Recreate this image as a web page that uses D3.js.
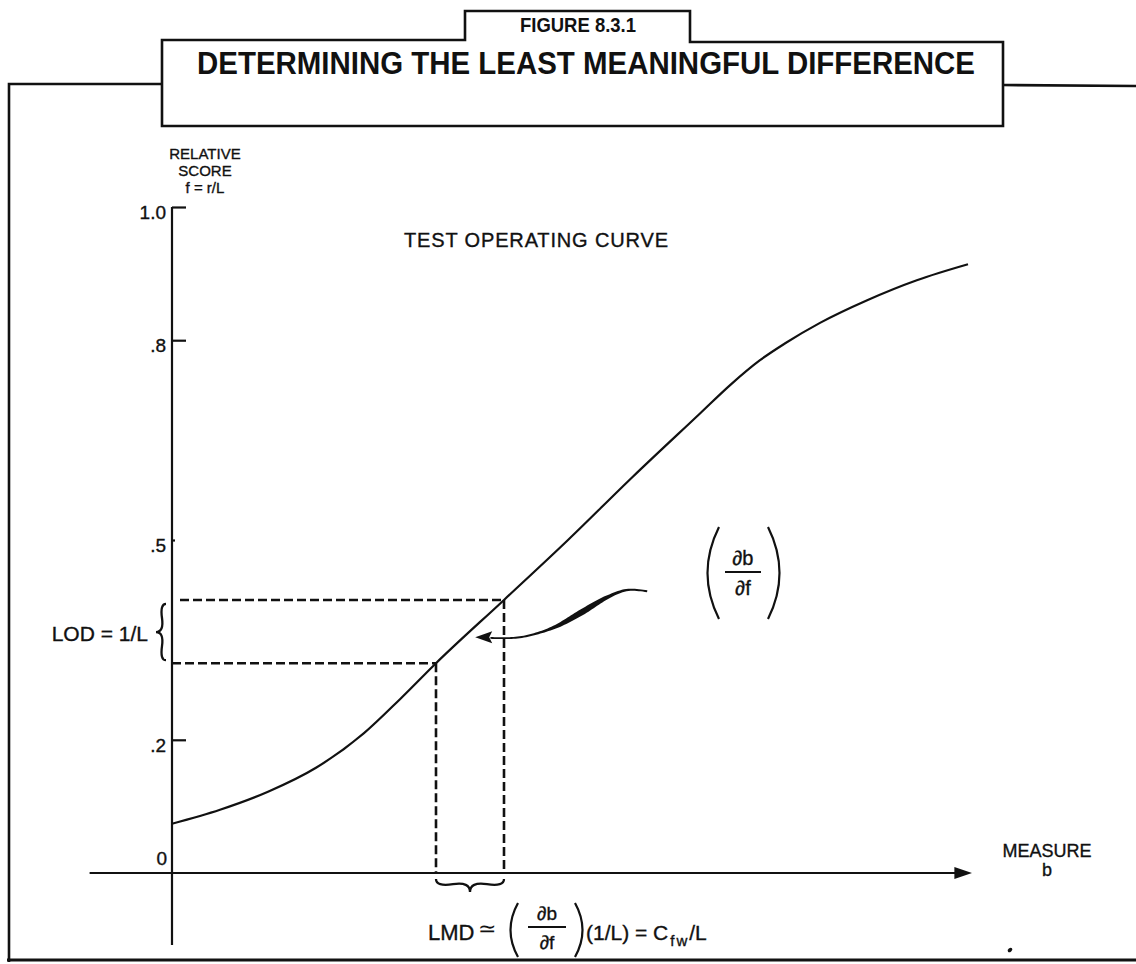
<!DOCTYPE html>
<html>
<head>
<meta charset="utf-8">
<script src="https://cdn.jsdelivr.net/npm/d3@7"></script>
<style>
  html, body { margin: 0; padding: 0; background: #fff; }
  svg { display: block; }
  text { fill: #111; font-family: "Liberation Sans", Arial, Helvetica, sans-serif; }
  .lbl { stroke: #111; stroke-width: 0.35px; }
  .head { font-weight: bold; }
</style>
</head>
<body>
<script>
// Test operating curve: relative score f = r/L against measure b
const measureB = [0, 0.6, 1.2, 1.8, 2.4, 2.85, 3.3, 4.15, 4.95, 5.76, 6.6, 6.98, 7.35, 7.66, 8.1, 8.69, 9.31, 9.95];
const scoreF   = [0.074, 0.095, 0.122, 0.158, 0.21, 0.261, 0.315, 0.41, 0.5, 0.595, 0.69, 0.733, 0.77, 0.795, 0.826, 0.86, 0.89, 0.914];

// Two neighbouring score levels one LOD (= 1/L) apart, and the measures they map to
const lodLevels = [0.315, 0.41];
const lmdBounds = [3.3, 4.15];

// Vertical axis ticks
const yTickValues = [0.2, 0.5, 0.8, 1.0];
const yTickLabels = [".2", ".5", ".8", "1.0"];

// Vertical axis title lines
const yTitleLines = ["RELATIVE", "SCORE", "f = r/L"];

// Slope pointer (b, f) centre line, tail first
const pointerB = [5.94, 5.69, 5.44, 5.1, 4.76, 4.35, 3.98];
const pointerF = [0.423, 0.425, 0.414, 0.39, 0.368, 0.354, 0.353];

const W = 1136, H = 964;
const ink = "#111";

const svg = d3.select("body").append("svg")
  .attr("width", W).attr("height", H)
  .attr("viewBox", `0 0 ${W} ${H}`);

svg.append("rect").attr("width", W).attr("height", H).attr("fill", "#fff");

const x = d3.scaleLinear().domain([-1, 10]).range([92, 972]);
const y = d3.scaleLinear().domain([0, 1]).range([873, 207]);

// ---------- page frame and heading boxes ----------
const frame = svg.append("g").attr("fill", "none").attr("stroke", ink)
  .attr("stroke-width", 2.6).attr("stroke-linejoin", "miter");
frame.append("path").attr("d", "M9,962 L9,84 L162,84");
frame.append("path").attr("d", "M1003,85 L1136,86");
frame.append("path").attr("d", "M7,960 L1136,960").attr("stroke-width", 3.2);
frame.append("path").attr("d", "M162,126 L162,40 L465,40 L465,11 L690,11 L690,42 L1003,42 L1003,126 Z")
  .attr("fill", "#fff");

svg.append("text").attr("class", "head")
  .attr("x", 578).attr("y", 32).attr("text-anchor", "middle")
  .attr("font-size", 21).attr("textLength", 116).attr("lengthAdjust", "spacingAndGlyphs")
  .text("FIGURE 8.3.1");

svg.append("text").attr("class", "head")
  .attr("x", 586).attr("y", 74).attr("text-anchor", "middle")
  .attr("font-size", 32).attr("textLength", 778).attr("lengthAdjust", "spacingAndGlyphs")
  .text("DETERMINING THE LEAST MEANINGFUL DIFFERENCE");

// ---------- axes ----------
const axes = svg.append("g").attr("stroke", ink).attr("stroke-width", 2.2).attr("fill", "none");
// vertical axis, running a little below the measure axis
axes.append("line")
  .attr("x1", x(0)).attr("x2", x(0))
  .attr("y1", y(1.0)).attr("y2", y(-0.108));
// measure axis with arrow head
axes.append("line")
  .attr("x1", x(-1.03)).attr("x2", x(9.85))
  .attr("y1", y(0)).attr("y2", y(0));
svg.append("path")
  .attr("d", `M${x(10)},${y(0)} L${x(9.78)},${y(0) - 6} L${x(9.78)},${y(0) + 6} Z`)
  .attr("fill", ink);

// tick marks pointing into the plot, labels on the left
const yAxis = d3.axisLeft(y)
  .tickValues(yTickValues)
  .tickSize(-14)
  .tickPadding(6)
  .tickFormat((d, i) => yTickLabels[i]);
const yg = svg.append("g").attr("transform", `translate(${x(0)},0)`).call(yAxis);
yg.select(".domain").remove();
yg.selectAll(".tick line").attr("stroke", ink).attr("stroke-width", 2.2)
  .attr("x2", d => d === 0.5 ? 3 : 14);
yg.selectAll(".tick text")
  .attr("class", "lbl")
  .attr("fill", ink).attr("font-size", 19)
  .attr("font-family", "'Liberation Sans', Arial, sans-serif")
  .attr("dy", "0.62em");

// origin label
svg.append("text").attr("class", "lbl").attr("x", x(0) - 5).attr("y", y(0) - 8)
  .attr("text-anchor", "end").attr("font-size", 19).text("0");

// axis titles
svg.append("g").attr("font-size", 15).attr("text-anchor", "middle")
  .selectAll("text").data(yTitleLines).join("text")
  .attr("class", "lbl")
  .attr("x", 205)
  .attr("y", (d, i) => 159 + i * 17)
  .text(d => d);

svg.append("text").attr("class", "lbl").attr("x", 1047).attr("y", 857).attr("text-anchor", "middle")
  .attr("font-size", 18).text("MEASURE");
svg.append("text").attr("class", "lbl").attr("x", 1047).attr("y", 876).attr("text-anchor", "middle")
  .attr("font-size", 18).text("b");

svg.append("text").attr("class", "lbl").attr("x", 404).attr("y", 247)
  .attr("font-size", 20).attr("textLength", 264).attr("lengthAdjust", "spacing")
  .text("TEST OPERATING CURVE");

// ---------- dashed construction lines ----------
const dash = svg.append("g").attr("stroke", ink).attr("stroke-width", 2.6)
  .attr("stroke-dasharray", "9,4").attr("fill", "none");
lodLevels.forEach((f, i) => {
  dash.append("line")
    .attr("x1", x(i === 1 ? 0.1 : 0)).attr("x2", x(lmdBounds[i]))
    .attr("y1", y(f)).attr("y2", y(f));
  dash.append("line")
    .attr("x1", x(lmdBounds[i])).attr("x2", x(lmdBounds[i]))
    .attr("y1", y(f)).attr("y2", y(0));
});

// ---------- operating curve ----------
const curveData = measureB.map((b, i) => ({ b, f: scoreF[i] }));
const line = d3.line().x(d => x(d.b)).y(d => y(d.f)).curve(d3.curveMonotoneX);
svg.append("path").datum(curveData)
  .attr("d", line)
  .attr("fill", "none").attr("stroke", ink).attr("stroke-width", 2.2)
  .attr("stroke-linejoin", "round");

// ---------- curly braces ----------
function curlyBrace(x1, y1, x2, y2, w, q) {
  const len = Math.hypot(x1 - x2, y1 - y2);
  const dx = (x1 - x2) / len, dy = (y1 - y2) / len;
  const qx1 = x1 + q * w * dy, qy1 = y1 - q * w * dx;
  const qx2 = (x1 - 0.25 * len * dx) + (1 - q) * w * dy, qy2 = (y1 - 0.25 * len * dy) - (1 - q) * w * dx;
  const tx1 = (x1 - 0.5 * len * dx) + w * dy, ty1 = (y1 - 0.5 * len * dy) - w * dx;
  const qx3 = x2 + q * w * dy, qy3 = y2 - q * w * dx;
  const qx4 = (x1 - 0.75 * len * dx) + (1 - q) * w * dy, qy4 = (y1 - 0.75 * len * dy) - (1 - q) * w * dx;
  return `M${x1},${y1} Q${qx1},${qy1} ${qx2},${qy2} T${tx1},${ty1} ` +
         `M${x2},${y2} Q${qx3},${qy3} ${qx4},${qy4} T${tx1},${ty1}`;
}
const braces = svg.append("g").attr("fill", "none").attr("stroke", ink).attr("stroke-width", 2.3);
// LOD brace on the score axis
braces.append("path").attr("d", curlyBrace(166, y(lodLevels[1]) + 4, 166, y(lodLevels[0]) - 3, 10, 0.6));
// LMD brace under the measure axis
braces.append("path").attr("d", curlyBrace(x(lmdBounds[0]), y(0) + 6, x(lmdBounds[1]), y(0) + 6, 13, 0.6));

svg.append("text").attr("class", "lbl").attr("x", 148).attr("y", 641).attr("text-anchor", "end")
  .attr("font-size", 21).text("LOD = 1/L");

// ---------- slope pointer: tapered stroke, thick in the middle ----------
const ptr = pointerB.map((b, i) => [x(b), y(pointerF[i])]);
const ptrLine = d3.line().curve(d3.curveCatmullRom.alpha(0.5));
const guide = svg.append("path").attr("d", ptrLine(ptr)).attr("fill", "none").attr("stroke", "none");
const gNode = guide.node();
const gLen = gNode.getTotalLength();
const sideA = [], sideB = [];
const steps = 80;
for (let i = 0; i <= steps; i++) {
  const t = i / steps;
  const s = t * gLen;
  const p = gNode.getPointAtLength(s);
  const p0 = gNode.getPointAtLength(Math.max(0, s - 0.6));
  const p1 = gNode.getPointAtLength(Math.min(gLen, s + 0.6));
  let tx = p1.x - p0.x, ty = p1.y - p0.y;
  const n = Math.hypot(tx, ty) || 1;
  tx /= n; ty /= n;
  const half = 0.9 + 2.1 * Math.exp(-Math.pow((t - 0.42) / 0.2, 2));
  sideA.push([p.x - ty * half, p.y + tx * half]);
  sideB.push([p.x + ty * half, p.y - tx * half]);
}
const outline = sideA.concat(sideB.reverse());
svg.append("path").attr("d", d3.line().curve(d3.curveLinearClosed)(outline)).attr("fill", ink);
guide.remove();
const tip = [x(3.79), y(0.354)];
svg.append("path")
  .attr("d", `M${tip[0]},${tip[1]} L${tip[0] + 17},${tip[1] - 6} L${tip[0] + 14},${tip[1]} L${tip[0] + 17},${tip[1] + 6} Z`)
  .attr("fill", ink);

// (∂b/∂f) annotation
const parens = svg.append("g").attr("fill", "none").attr("stroke", ink).attr("stroke-width", 2.2);
parens.append("path").attr("d", "M719,527 Q696,573 719,619");
parens.append("path").attr("d", "M768,527 Q791,573 768,619");
parens.append("line").attr("x1", 725).attr("x2", 761).attr("y1", 572).attr("y2", 572);
svg.append("text").attr("class", "lbl").attr("x", 743).attr("y", 565).attr("text-anchor", "middle").attr("font-size", 20).text("∂b");
svg.append("text").attr("class", "lbl").attr("x", 743).attr("y", 595).attr("text-anchor", "middle").attr("font-size", 20).text("∂f");

// ---------- LMD formula ----------
svg.append("text").attr("class", "lbl").attr("x", 428).attr("y", 940).attr("font-size", 22).text("LMD");
svg.append("text").attr("x", 478).attr("y", 936).attr("font-size", 22)
  .attr("font-family", "'DejaVu Sans', sans-serif").text("≃");
const fp = svg.append("g").attr("fill", "none").attr("stroke", ink).attr("stroke-width", 2.2);
fp.append("path").attr("d", "M518,903 Q503,930 518,957");
fp.append("path").attr("d", "M575,903 Q590,930 575,957");
fp.append("line").attr("x1", 528).attr("x2", 566).attr("y1", 927).attr("y2", 927);
svg.append("text").attr("class", "lbl").attr("x", 547).attr("y", 920).attr("text-anchor", "middle").attr("font-size", 19).text("∂b");
svg.append("text").attr("class", "lbl").attr("x", 547).attr("y", 949).attr("text-anchor", "middle").attr("font-size", 19).text("∂f");
const tail = svg.append("text").attr("class", "lbl").attr("x", 586).attr("y", 940).attr("font-size", 21);
tail.append("tspan").text("(1/L) = C");
tail.append("tspan").attr("font-size", 15).attr("dy", 6).attr("dx", 2).attr("letter-spacing", 2).text("fw");
tail.append("tspan").attr("font-size", 21).attr("dy", -6).text("/L");

// small ink mark near the lower right
svg.append("ellipse").attr("cx", 1010).attr("cy", 950).attr("rx", 2.6).attr("ry", 1.8)
  .attr("transform", "rotate(-40,1010,950)").attr("fill", ink);
</script>
</body>
</html>
